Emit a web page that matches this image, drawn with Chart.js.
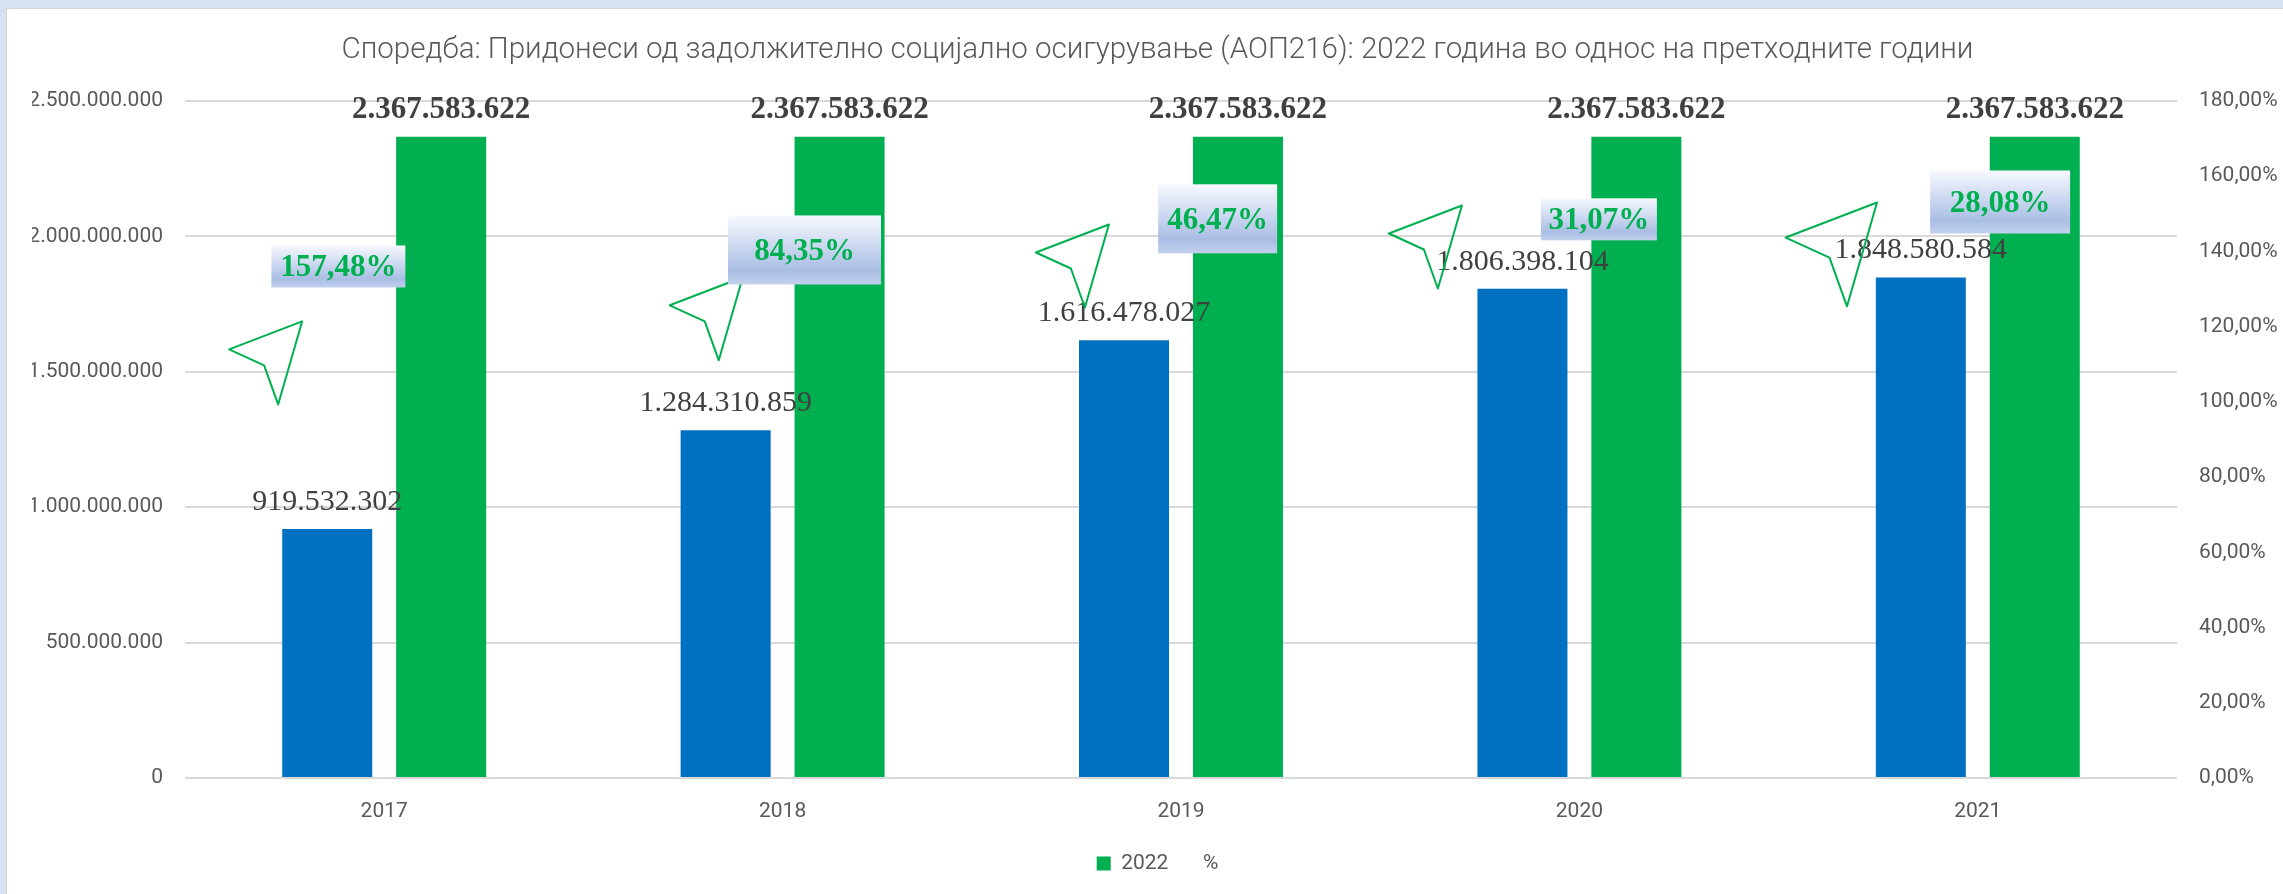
<!DOCTYPE html>
<html>
<head>
<meta charset="utf-8">
<script src="https://cdn.jsdelivr.net/npm/chart.js@4"></script>
<style>
html,body{margin:0;padding:0;background:#d6e1f1;}
#wrap{position:absolute;left:0;top:0;width:2283px;height:894px;}
</style>
</head>
<body>
<div id="wrap"><canvas id="c" width="2283" height="894"></canvas></div>
<script>
// ---- data ----
const categories = ['2017', '2018', '2019', '2020', '2021'];
const previousYears = [919532302, 1284310859, 1616478027, 1806398104, 1848580584];
const year2022 = [2367583622, 2367583622, 2367583622, 2367583622, 2367583622];
const pctChange = [157.48, 84.35, 46.47, 31.07, 28.08];
const leftTicks = [0, 500000000, 1000000000, 1500000000, 2000000000, 2500000000];
const rightTicks = [0, 20, 40, 60, 80, 100, 120, 140, 160, 180];

// ---- annotation layout (positions in axis units, sizes in px) ----
const pctBoxCatOffset = [-0.115, 0.055, 0.092, 0.049, 0.056];
const pctBoxValue = [1.889e9, 1.950e9, 2.065e9, 2.063e9, 2.127e9];
const pctBoxW = [134, 153, 119, 116, 140];
const pctBoxH = [42, 69, 69, 42, 63];
const arrowCatOffset = [-0.206, -0.100, -0.181, -0.295, -0.253];
const arrowValue = [1.686e9, 1.849e9, 2.044e9, 2.114e9, 2.125e9];
const arrowScale = [1, 1, 1, 1, 1.25];

const BLUE = '#0070c0', GREEN = '#00b050', GRID = '#d9d9d9', TXT = '#595959', LBL = '#404040';
const SANS = 'Roboto, "Open Sans", sans-serif';
const SERIF = '"Liberation Serif", "DejaVu Serif", serif';

function fmtInt(v) { return Math.round(v).toString().replace(/\B(?=(\d{3})+(?!\d))/g, '.'); }
function fmtPct(v) { return v.toFixed(2).replace('.', ',') + '%'; }

const framePlugin = {
  id: 'frame',
  beforeDraw(chart) {
    const ctx = chart.ctx, W = chart.width, H = chart.height;
    ctx.save();
    ctx.fillStyle = '#d6e1f1';
    ctx.fillRect(0, 0, W, H);
    ctx.fillStyle = '#ffffff';
    ctx.fillRect(7, 9, W - 7, H - 9);
    ctx.strokeStyle = '#d3d3d3';
    ctx.lineWidth = 1;
    ctx.beginPath();
    ctx.moveTo(6.5, H); ctx.lineTo(6.5, 8.5); ctx.lineTo(W, 8.5);
    ctx.stroke();
    ctx.restore();
  }
};

const labelsPlugin = {
  id: 'labels',
  afterDatasetsDraw(chart) {
    const ctx = chart.ctx;
    const xs = chart.scales.x, ys = chart.scales.y;
    ctx.save();
    ctx.textAlign = 'center';
    ctx.textBaseline = 'middle';
    // value labels
    const m0 = chart.getDatasetMeta(0), m1 = chart.getDatasetMeta(1);
    m0.data.forEach((bar, i) => {
      ctx.font = '30px ' + SERIF;
      ctx.fillStyle = LBL;
      ctx.fillText(fmtInt(previousYears[i]), bar.x, bar.y - 27);
    });
    m1.data.forEach((bar, i) => {
      ctx.font = 'bold 31px ' + SERIF;
      ctx.fillStyle = LBL;
      ctx.fillText(fmtInt(year2022[i]), bar.x, bar.y - 27);
    });
    // arrows
    categories.forEach((c, i) => {
      const x = xs.getPixelForValue(i + arrowCatOffset[i]);
      const y = ys.getPixelForValue(arrowValue[i]);
      const s = arrowScale[i];
      const pts = [[0, 0], [-73, 28], [-38, 44], [-24, 83]];
      ctx.beginPath();
      pts.forEach((p, k) => {
        const px = x + p[0] * s, py = y + p[1] * s;
        if (k === 0) ctx.moveTo(px, py); else ctx.lineTo(px, py);
      });
      ctx.closePath();
      ctx.strokeStyle = GREEN;
      ctx.lineWidth = 2;
      ctx.lineJoin = 'round';
      ctx.stroke();
    });
    // percentage boxes
    categories.forEach((c, i) => {
      const cx = xs.getPixelForValue(i + pctBoxCatOffset[i]);
      const cy = ys.getPixelForValue(pctBoxValue[i]);
      const w = pctBoxW[i], h = pctBoxH[i];
      const x0 = cx - w / 2, y0 = cy - h / 2;
      const g = ctx.createLinearGradient(0, y0, 0, y0 + h);
      g.addColorStop(0, '#f6f8fd');
      g.addColorStop(0.45, '#ccd8f0');
      g.addColorStop(0.8, '#a9bde4');
      g.addColorStop(1, '#c3d1ed');
      ctx.fillStyle = g;
      ctx.fillRect(x0, y0, w, h);
      ctx.font = 'bold 31px ' + SERIF;
      ctx.fillStyle = GREEN;
      ctx.fillText(fmtPct(pctChange[i]), cx, cy + 2);
    });
    ctx.restore();
  }
};

new Chart(document.getElementById('c'), {
  data: {
    labels: categories,
    datasets: [
      { type: 'bar', label: 'Претходна година', data: previousYears, backgroundColor: BLUE, yAxisID: 'y',
        categoryPercentage: 0.572, barPercentage: 0.79, order: 2 },
      { type: 'bar', label: '2022', data: year2022, backgroundColor: GREEN, yAxisID: 'y',
        categoryPercentage: 0.572, barPercentage: 0.79, order: 2 },
      { type: 'line', label: '%', data: pctChange, yAxisID: 'y1', showLine: false, pointRadius: 0,
        pointHoverRadius: 0, borderColor: 'rgba(0,0,0,0)', backgroundColor: 'rgba(0,0,0,0)', order: 1 }
    ]
  },
  options: {
    responsive: false,
    animation: false,
    layout: { padding: { left: 32, right: 0, top: 0, bottom: 10 } },
    plugins: {
      title: {
        display: true,
        text: 'Споредба: Придонеси од задолжително социјално осигурување (АОП216): 2022 година во однос на претходните години',
        color: TXT,
        font: { family: SANS, size: 29.5, weight: '300', lineHeight: 1.2 },
        padding: { top: 32.5, bottom: 33.1 }
      },
      legend: {
        position: 'bottom',
        labels: {
          color: TXT,
          font: { family: SANS, size: 21 },
          boxWidth: 14, boxHeight: 14, padding: 10,
          generateLabels: () => [
            { text: '2022', fillStyle: GREEN, strokeStyle: GREEN, lineWidth: 0, datasetIndex: 1, fontColor: TXT },
            { text: '%', fillStyle: 'rgba(0,0,0,0)', strokeStyle: 'rgba(0,0,0,0)', lineWidth: 0, datasetIndex: 2, fontColor: TXT }
          ]
        }
      },
      tooltip: { enabled: false }
    },
    scales: {
      x: {
        grid: { display: false, drawTicks: false },
        border: { display: false },
        ticks: { color: TXT, font: { family: SANS, size: 21 }, padding: 21 },
        afterFit: (s) => { s.height = 65; }
      },
      y: {
        position: 'left',
        min: 0, max: 2500000000,
        afterBuildTicks: (s) => { s.ticks = leftTicks.map(v => ({ value: v })); },
        grid: { color: GRID, lineWidth: 2, drawTicks: false },
        border: { display: false },
        ticks: { color: TXT, font: { family: SANS, size: 21 }, padding: 22, callback: (v) => fmtInt(v) },
        afterFit: (s) => { s.width = 153; }
      },
      y1: {
        position: 'right',
        min: 0, max: 180,
        afterBuildTicks: (s) => { s.ticks = rightTicks.map(v => ({ value: v })); },
        grid: { display: false, drawTicks: false },
        border: { display: false },
        ticks: { color: TXT, font: { family: SANS, size: 21 }, padding: 22, callback: (v) => fmtPct(v) },
        afterFit: (s) => { s.width = 106; }
      }
    }
  },
  plugins: [framePlugin, labelsPlugin]
});
</script>
</body>
</html>
